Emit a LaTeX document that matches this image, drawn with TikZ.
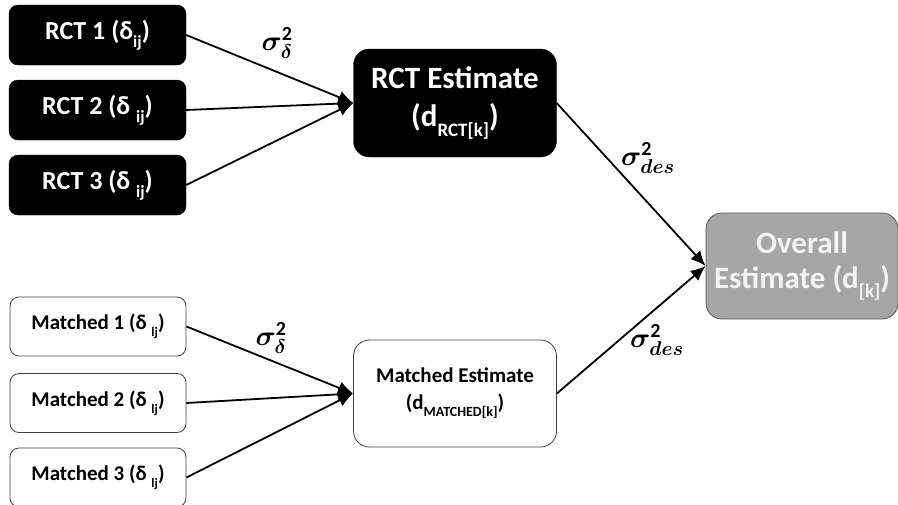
\RequirePackage{fix-cm}
\documentclass[tikz,border=0pt]{standalone}
\usepackage{fontspec}
\setmainfont{Carlito}
\usepackage{amsmath,bm}
\DeclareMathSizes{28}{28}{20}{14}
\usetikzlibrary{arrows.meta}
\newcommand{\lowsub}[2]{\raisebox{-0.32em}{\fontsize{#1}{#1}\selectfont #2}}
\tikzset{
  rctbox/.style={draw=black, fill=black, text=white, rounded corners=9pt, minimum width=177pt, minimum height=60pt, font=\fontsize{26}{30}\selectfont\bfseries, inner sep=0pt},
  matbox/.style={draw=black!75, line width=0.8pt, fill=white, text=black, rounded corners=9pt, minimum width=176pt, minimum height=59pt, font=\fontsize{21}{25}\selectfont\bfseries, inner sep=0pt},
  bigrct/.style={draw=black, fill=black, text=white, rounded corners=16pt, minimum width=203pt, minimum height=108pt, align=center, font=\fontsize{31}{38}\selectfont\bfseries, inner sep=0pt},
  bigmat/.style={draw=black!75, line width=0.8pt, fill=white, rounded corners=16pt, minimum width=203pt, minimum height=107pt, align=center, font=\fontsize{21}{27}\selectfont\bfseries, inner sep=0pt},
  overall/.style={draw=black!65, line width=0.8pt, fill=black!35, text=black!5, rounded corners=16pt, minimum width=192pt, minimum height=106pt, align=center, font=\fontsize{31}{35}\selectfont\bfseries, inner sep=0pt},
  conn/.style={line width=1.8pt, -{Latex[length=15pt,width=13pt]}},
  lab/.style={font=\fontsize{28}{32}\selectfont, inner sep=0pt}
}
\begin{document}
\begin{tikzpicture}[x=1pt,y=-1pt]
\useasboundingbox (0,0) rectangle (898,504);
\begin{scope}
\clip (0,0) rectangle (898,504);
\node[rctbox] (r1) at (97.5,35) {RCT 1 (δ\lowsub{17}{ij})};
\node[rctbox] (r2) at (97.5,110) {RCT 2 (δ \lowsub{17}{ij})};
\node[rctbox] (r3) at (97.5,185) {RCT 3 (δ \lowsub{17}{ij})};
\node[bigrct] (re) at (455,103) {RCT Estimate\\(d\lowsub{19}{RCT[k]})};
\node[matbox] (m1) at (98,326.5) {Matched 1 (δ \lowsub{13}{lj})};
\node[matbox] (m2) at (98,403) {Matched 2 (δ \lowsub{13}{lj})};
\node[matbox] (m3) at (98,477.5) {Matched 3 (δ \lowsub{13}{lj})};
\node[bigmat] (me) at (455,393.5) {Matched Estimate\\(d\lowsub{14}{MATCHED[k]})};
\node[overall] (ov) at (802,266) {Overall\\Estimate (d\lowsub{19}{[k]})};
\end{scope}
\draw[conn] (r1.east) -- (re.west);
\draw[conn] (r2.east) -- (re.west);
\draw[conn] (r3.east) -- (re.west);
\draw[conn] (m1.east) -- (me.west);
\draw[conn] (m2.east) -- (me.west);
\draw[conn] (m3.east) -- (me.west);
\draw[conn] (re.east) -- (ov.west);
\draw[conn] (me.east) -- (ov.west);
\node[lab] (s1) at (277,43) {$\bm{\sigma}^{\mathbf{2}}_{\bm{\delta}}$};
\node[lab] (s2) at (271,338) {$\bm{\sigma}^{\mathbf{2}}_{\bm{\delta}}$};
\node[lab] (s3) at (648,158) {$\bm{\sigma}^{\mathbf{2}}_{\bm{des}}$};
\node[lab] (s4) at (657,340) {$\bm{\sigma}^{\mathbf{2}}_{\bm{des}}$};
\end{tikzpicture}
\end{document}
